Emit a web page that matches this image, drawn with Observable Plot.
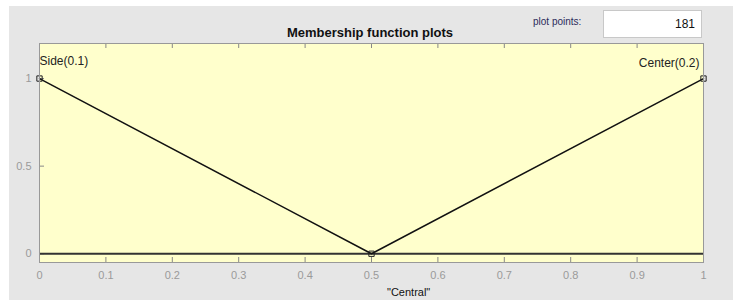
<!DOCTYPE html>
<html><head><meta charset="utf-8">
<script src="https://cdn.jsdelivr.net/npm/d3@7"></script>
<script src="https://cdn.jsdelivr.net/npm/@observablehq/plot@0.6"></script>
<style>
body{margin:0;background:#fff;font-family:"Liberation Sans",Arial,sans-serif;}
#wrap{position:relative;width:737px;height:300px;overflow:hidden;}
#bg{position:absolute;left:9px;top:6px;width:724px;height:294px;background:#e6e6e6;}
#chart{position:absolute;left:0;top:0;}
#title{position:absolute;left:0;width:740px;top:25px;text-align:center;font-weight:bold;font-size:13px;color:#111;}
#pplabel{position:absolute;left:533px;top:16px;font-size:10px;color:#2b2b5a;}
#ppbox{position:absolute;left:603px;top:10px;width:93px;height:26px;background:#fff;border:1px solid #c8c8c8;font-size:12px;color:#111;text-align:right;line-height:26px;padding-right:4px;box-sizing:content-box;}
#ppbox span{margin-right:2px;}
#xlabel{position:absolute;left:387px;top:286px;font-size:11px;color:#111;}
</style>
</head><body>
<div id="wrap">
  <div id="bg"></div>
  <div id="chart"></div>
  <div id="title"></div>
  <div id="pplabel"></div>
  <div id="ppbox"><span id="ppval"></span></div>
  <div id="xlabel"></div>
</div>
<script>
const titleText = "Membership function plots";
const plotPointsLabel = "plot points:";
const plotPoints = 181;
const xLabelText = "\"Central\"";
const mfNames = ["Side(0.1)", "Center(0.2)"];
const mfX = [0, 0.5, 1];
const mfY = [1, 0, 1];
const xTicks = [0, 0.1, 0.2, 0.3, 0.4, 0.5, 0.6, 0.7, 0.8, 0.9, 1];
const xTickLabels = ["0", "0.1", "0.2", "0.3", "0.4", "0.5", "0.6", "0.7", "0.8", "0.9", "1"];
const yTicks = [0, 0.5, 1];
const yTickLabels = ["0", "0.5", "1"];
const zeroLine = [0];

document.getElementById("title").textContent = titleText;
document.getElementById("pplabel").textContent = plotPointsLabel;
document.getElementById("ppval").textContent = plotPoints;
document.getElementById("xlabel").textContent = xLabelText;

const pts = mfX.map((x, i) => ({x, y: mfY[i]}));
const gray = "#9a9a9a";

const W = 737, H = 300, ML = 39, MR = 34, MT = 43, MB = 38, TICK = 5;
const innerW = W - ML - MR, innerH = H - MT - MB;

const chart = Plot.plot({
  width: W,
  height: H,
  marginLeft: ML,
  marginRight: MR,
  marginTop: MT,
  marginBottom: MB,
  style: {background: "transparent", fontFamily: "Liberation Sans, Arial, sans-serif", fontSize: "11px"},
  x: {domain: [0, 1], axis: null},
  y: {domain: [-0.05, 1.2], axis: null},
  marks: [
    Plot.frame({fill: "#ffffcc", stroke: null}),
    // inward ticks
    Plot.ruleX(xTicks, {x: d => d, insetTop: innerH - TICK, stroke: "#888"}),
    Plot.ruleX(xTicks, {x: d => d, insetBottom: innerH - TICK, stroke: "#888"}),
    Plot.ruleY(yTicks, {y: d => d, insetRight: innerW - TICK, stroke: "#888"}),
    // labels
    Plot.axisX({ticks: xTicks, anchor: "bottom", label: null, tickSize: 0, tickPadding: 9, tickFormat: (d, i) => xTickLabels[i], fill: gray, fontSize: 11}),
    Plot.axisY({ticks: yTicks, anchor: "left", label: null, tickSize: 0, tickPadding: 8, tickFormat: (d, i) => yTickLabels[i], fill: gray, fontSize: 11}),
    Plot.ruleY(zeroLine, {stroke: "#333", strokeWidth: 2}),
    Plot.line(pts, {x: "x", y: "y", stroke: "#111", strokeWidth: 1.5}),
    Plot.dot(pts, {x: "x", y: "y", symbol: "square", r: 3, stroke: "#222", strokeWidth: 1, fill: "none"}),
    Plot.text([mfNames[0]], {frameAnchor: "top-left", text: d => d, dy: 13, dx: 0, textAnchor: "start", fill: "#222", fontSize: 12}),
    Plot.text([mfNames[1]], {frameAnchor: "top-right", text: d => d, dy: 15, dx: -4, textAnchor: "end", fill: "#222", fontSize: 12}),
    Plot.frame({stroke: "#999", fill: "none"})
  ]
});
document.getElementById("chart").appendChild(chart);
</script>
</body></html>
